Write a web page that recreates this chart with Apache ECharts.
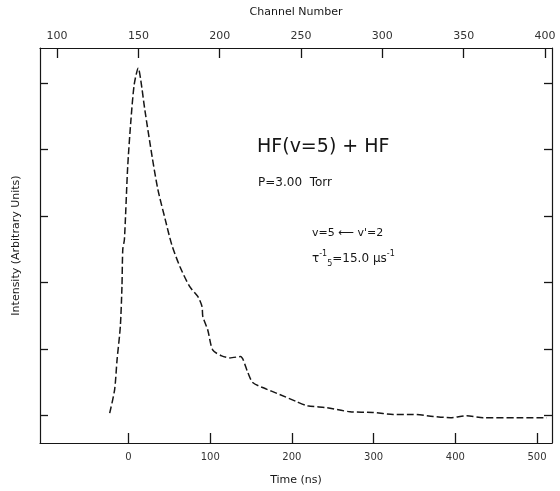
<!DOCTYPE html>
<html>
<head>
<meta charset="utf-8">
<script src="https://cdn.jsdelivr.net/npm/echarts@6/dist/echarts.min.js"></script>
<style>
  html, body { margin: 0; padding: 0; background: #fff; }
  #chart { width: 560px; height: 491px; }
</style>
</head>
<body>
<div id="chart"></div>
<script>
// Time after the pump pulse (ns) and the HF(v=5) emission intensity (arbitrary units)
const timeNs = [-23, -17, -14, -10, -8, -7, -5, -1, 3, 7, 12, 15, 20, 29, 36, 45, 53, 63, 75,
  85, 90, 91, 97, 103, 114, 124, 137, 146, 152, 165, 185, 206, 219, 243, 271, 299, 324,
  348, 373, 394, 414, 434, 476, 512];
const intensity = [0.04, 0.39, 0.84, 1.34, 1.94, 2.50, 2.65, 3.74, 4.45, 4.98, 5.23, 5.05, 4.60,
  3.89, 3.40, 2.95, 2.57, 2.24, 1.94, 1.79, 1.64, 1.49, 1.29, 0.99, 0.90, 0.87, 0.89, 0.65,
  0.50, 0.42, 0.32, 0.21, 0.15, 0.12, 0.06, 0.05, 0.02, 0.02, -0.01, -0.03, 0.00, -0.03,
  -0.03, -0.03];

// Tick positions
const timeTicks = [0, 100, 200, 300, 400, 500];
const channelTicks = [100, 150, 200, 250, 300, 350, 400];
const intensityTicks = [0, 1, 2, 3, 4, 5];

const FONT = 'DejaVu Sans';
const INK = '#161616';

const chart = echarts.init(document.getElementById('chart'), null, { renderer: 'canvas' });

const frameLine = { show: true, onZero: false, lineStyle: { color: INK, width: 1.2 } };

chart.setOption({
  animation: false,
  backgroundColor: '#ffffff',
  grid: { left: 40, right: 8, top: 48, bottom: 48, containLabel: false },
  xAxis: [
    {
      type: 'value',
      position: 'bottom',
      min: -108.3,
      max: 518.3,
      name: 'Time (ns)',
      nameLocation: 'middle',
      nameGap: 32,
      nameTextStyle: { fontFamily: FONT, fontSize: 11, color: INK },
      axisLine: frameLine,
      axisTick: { show: true, inside: true, length: 10, customValues: timeTicks,
        lineStyle: { color: INK, width: 1.3 } },
      axisLabel: { show: true, customValues: timeTicks, margin: 9,
        fontFamily: FONT, fontSize: 10, color: '#333' },
      splitLine: { show: false }
    },
    {
      type: 'value',
      position: 'top',
      min: 89.5,
      max: 404.3,
      name: 'Channel Number',
      nameLocation: 'middle',
      nameGap: 30,
      nameTextStyle: { fontFamily: FONT, fontSize: 11, color: INK },
      axisLine: frameLine,
      axisTick: { show: true, inside: true, length: 10, customValues: channelTicks,
        lineStyle: { color: INK, width: 1.3 } },
      axisLabel: { show: true, customValues: channelTicks, margin: 6,
        fontFamily: FONT, fontSize: 11, color: '#333' },
      splitLine: { show: false }
    }
  ],
  yAxis: [
    {
      type: 'value',
      position: 'left',
      min: -0.41,
      max: 5.53,
      name: 'Intensity (Arbitrary Units)',
      nameLocation: 'middle',
      nameGap: 18,
      nameTextStyle: { fontFamily: FONT, fontSize: 11, color: INK },
      axisLine: frameLine,
      axisTick: { show: true, inside: true, length: 8, customValues: intensityTicks,
        lineStyle: { color: INK, width: 1.3 } },
      axisLabel: { show: false },
      splitLine: { show: false }
    },
    {
      type: 'value',
      position: 'right',
      min: -0.41,
      max: 5.53,
      axisLine: frameLine,
      axisTick: { show: true, inside: true, length: 8, customValues: intensityTicks,
        lineStyle: { color: INK, width: 1.3 } },
      axisLabel: { show: false },
      splitLine: { show: false }
    }
  ],
  series: [
    {
      type: 'line',
      xAxisIndex: 0,
      yAxisIndex: 0,
      data: timeNs.map((t, i) => [t, intensity[i]]),
      showSymbol: false,
      smooth: 0.25,
      lineStyle: { color: INK, width: 1.5, type: [7, 3] }
    }
  ],
  graphic: [
    {
      type: 'text', left: 257, top: 138,
      style: { text: 'HF(v=5) + HF', fontFamily: FONT, fontSize: 19, fill: INK }
    },
    {
      type: 'text', left: 258, top: 177,
      style: { text: 'P=3.00  Torr', fontFamily: FONT, fontSize: 12, fill: INK }
    },
    {
      type: 'text', left: 312, top: 228,
      style: { text: "v=5 ⟵ v'=2", fontFamily: FONT, fontSize: 11, fill: INK }
    },
    {
      type: 'text', left: 312, top: 250,
      style: {
        text: '{b|τ}{sup|-1}{sub|5}{b|=15.0 μs}{sup|-1}',
        fill: INK,
        rich: {
          b: { fontFamily: FONT, fontSize: 12, fill: INK, verticalAlign: 'middle' },
          sup: { fontFamily: FONT, fontSize: 8, fill: INK, padding: [0, 0, 10, 0] },
          sub: { fontFamily: FONT, fontSize: 8, fill: INK, padding: [10, 0, 0, 0] }
        }
      }
    }
  ]
});
</script>
</body>
</html>
